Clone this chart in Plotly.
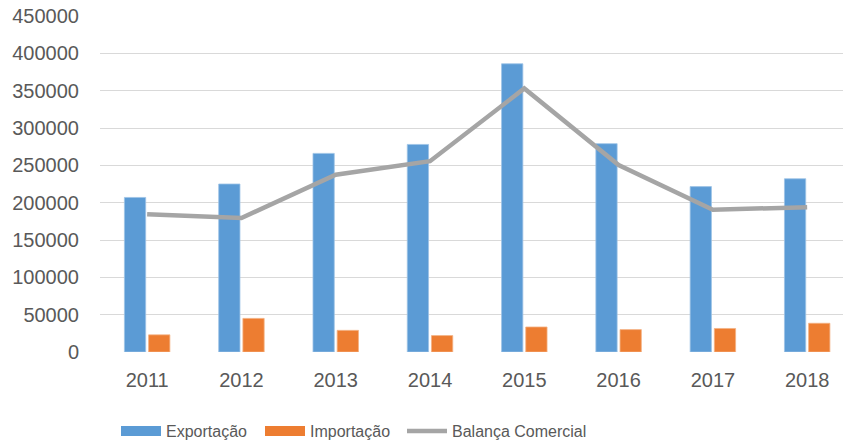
import plotly.graph_objects as go

anos = ["2011", "2012", "2013", "2014", "2015", "2016", "2017", "2018"]
exportacao = [207000, 225000, 266000, 278000, 386000, 279000, 221500, 232000]
importacao = [23000, 45000, 29000, 22000, 33500, 30000, 31500, 38500]
balanca = [184500, 179500, 237500, 255500, 353000, 250500, 190500, 194000]
y_ticks = [0, 50000, 100000, 150000, 200000, 250000, 300000, 350000, 400000, 450000]

text_color = "#595959"
font_family = "Liberation Sans, Arial, sans-serif"
c_exp, c_imp, c_bal = "#5b9bd5", "#ed7d31", "#a5a5a5"

fig = go.Figure()
fig.add_trace(go.Bar(x=anos, y=exportacao, name="Exportação", showlegend=False,
                     marker=dict(color=c_exp, line=dict(color="#9dc3e6", width=0.8))))
fig.add_trace(go.Bar(x=anos, y=importacao, name="Importação", showlegend=False,
                     marker=dict(color=c_imp, line=dict(color="#f4b183", width=0.8))))
fig.add_trace(go.Scatter(x=anos, y=balanca, name="Balança Comercial", mode="lines",
                         showlegend=False, line=dict(color=c_bal, width=4.5)))
# legend entries (rectangular swatches like the original)
for nm, col, w, lg in [("Exportação", c_exp, 12, "legend"), ("Importação", c_imp, 12, "legend"),
                       ("Balança Comercial", c_bal, 4.5, "legend2")]:
    fig.add_trace(go.Scatter(x=[None], y=[None], name=nm, mode="lines", legend=lg,
                             line=dict(color=col, width=w), showlegend=True))

leg_common = dict(orientation="h", xref="container", yref="container", xanchor="left",
                  yanchor="middle", y=1 - 431 / 444, font=dict(size=16, color=text_color),
                  itemwidth=40, traceorder="normal", bgcolor="rgba(0,0,0,0)")

fig.update_layout(
    width=843, height=444,
    margin=dict(l=100, r=0, t=16, b=92, autoexpand=False),
    paper_bgcolor="white", plot_bgcolor="white",
    barmode="group", bargap=0.487, bargroupgap=0.12,
    font=dict(family=font_family, color=text_color, size=20),
    showlegend=True,
    legend=dict(leg_common, x=116 / 843, entrywidth=89, entrywidthmode="pixels"),
    legend2=dict(leg_common, x=402 / 843),
    xaxis=dict(type="category", range=[-0.5, 7.38], showgrid=False, zeroline=False,
               showline=False, ticks="", ticklabelstandoff=14, automargin=False,
               tickfont=dict(size=20, color=text_color)),
    yaxis=dict(range=[0, 450000], tickvals=y_ticks, ticktext=[str(v) for v in y_ticks],
               showgrid=True, gridcolor="#d9d9d9", gridwidth=1, zeroline=False,
               showline=False, ticks="", ticklabelstandoff=20, automargin=False,
               tickfont=dict(size=20, color=text_color)),
)

fig.write_html("out.html", config={"displayModeBar": False},
               post_script="document.body.style.margin='0';")
